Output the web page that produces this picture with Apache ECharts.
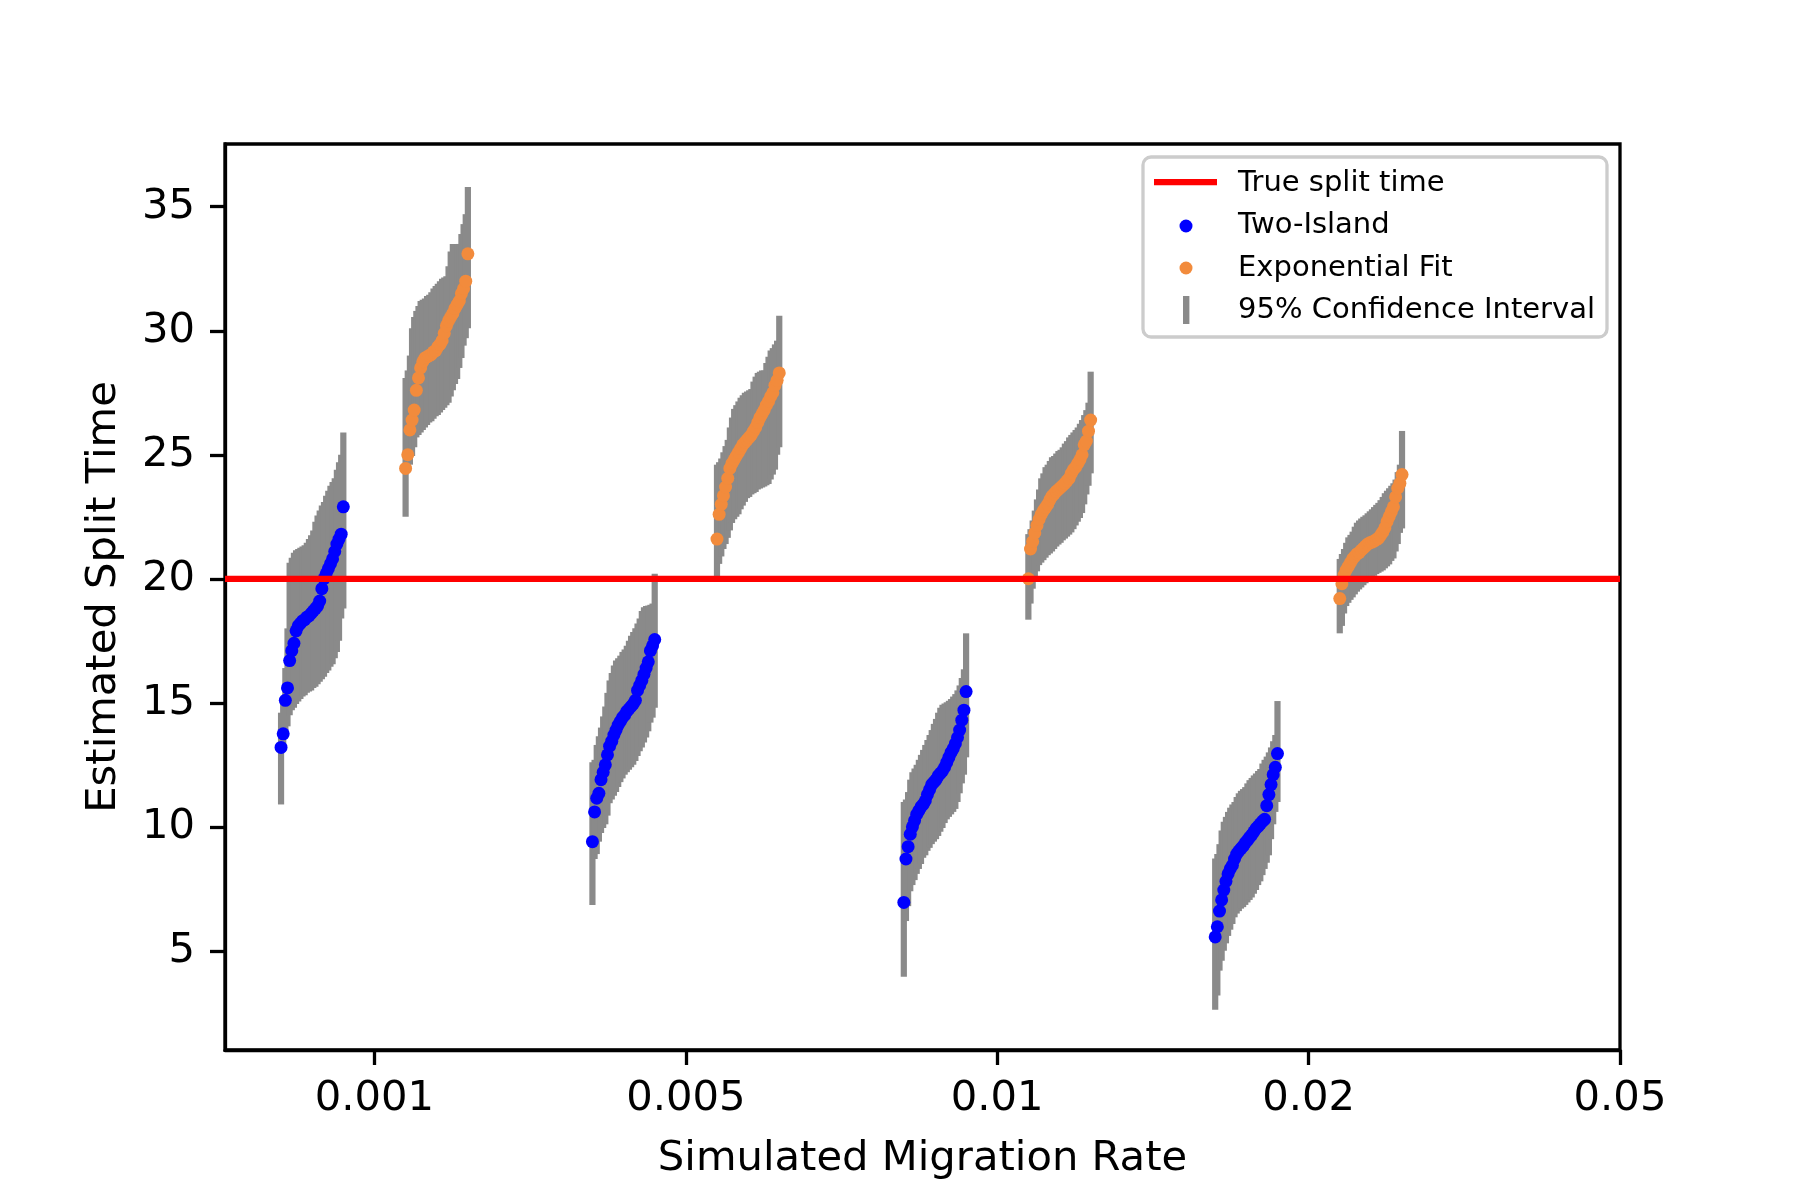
<!DOCTYPE html>
<html lang="en" style="height: 100%">

<head>
  <meta charset="utf-8">
</head>

<body style="height: 100%; margin: 0; background: #fff">
  <div id="container" style="width: 1800px; height: 1200px"></div>
  <script type="text/javascript" src="https://fastly.jsdelivr.net/npm/echarts@6.0.0/dist/echarts.min.js"></script>

  <script type="text/javascript">
    // x axis: one slot per simulated migration rate
    const rateLabels = ['0.001', '0.005', '0.01', '0.02', '0.05'];
    const rateSlots = [0, 1, 2, 3, 4];
    const yTicks = [5, 10, 15, 20, 25, 30, 35];
    const trueSplitTime = 20;

    // Two-Island estimates, sorted, one row per rate (0.001, 0.005, 0.01, 0.02)
    const twoIslandEst = [
      [13.2, 13.75, 15.1, 15.6, 16.7, 17.1, 17.4, 17.9, 18.1, 18.2, 18.3, 18.35, 18.45, 18.5, 18.6, 18.7, 18.8, 18.9, 19.1, 19.6, 20.0, 20.2, 20.4, 20.6, 20.8, 21.1, 21.4, 21.6, 21.8, 22.9],
      [9.4, 10.6, 11.15, 11.35, 11.9, 12.2, 12.5, 12.9, 13.25, 13.45, 13.7, 13.9, 14.1, 14.25, 14.4, 14.5, 14.65, 14.75, 14.85, 14.95, 15.1, 15.5, 15.7, 15.9, 16.15, 16.4, 16.65, 17.1, 17.3, 17.55],
      [6.95, 8.7, 9.2, 9.7, 10.0, 10.25, 10.5, 10.65, 10.8, 10.9, 11.05, 11.3, 11.5, 11.7, 11.8, 11.9, 12.05, 12.15, 12.25, 12.4, 12.6, 12.8, 13.0, 13.15, 13.35, 13.6, 13.9, 14.3, 14.7, 15.45],
      [5.56, 5.97, 6.6, 7.05, 7.45, 7.8, 8.1, 8.3, 8.45, 8.7, 8.9, 9.02, 9.12, 9.22, 9.35, 9.45, 9.57, 9.67, 9.8, 9.93, 10.02, 10.12, 10.22, 10.3, 10.85, 11.3, 11.7, 12.1, 12.4, 12.95]
    ];
    const twoIslandLo = [
      [10.9, 13.2, 13.6, 14.05, 14.5, 14.7, 14.8, 14.95, 15.05, 15.15, 15.25, 15.3, 15.4, 15.45, 15.5, 15.6, 15.65, 15.75, 15.85, 15.95, 16.05, 16.2, 16.3, 16.45, 16.55, 16.8, 17.05, 17.5, 18.4, 18.8],
      [6.85, 8.7, 8.9, 9.4, 9.75, 9.95, 10.1, 10.45, 10.95, 11.1, 11.25, 11.4, 11.6, 11.8, 11.95, 12.1, 12.2, 12.3, 12.4, 12.5, 12.65, 12.85, 13.05, 13.2, 13.4, 13.6, 13.85, 14.2, 14.4, 14.8],
      [3.95, 6.2, 6.8, 7.4, 7.65, 7.85, 8.1, 8.3, 8.5, 8.75, 8.85, 9.03, 9.15, 9.3, 9.4, 9.5, 9.63, 9.8, 9.95, 10.15, 10.3, 10.4, 10.5, 10.6, 10.72, 11.0, 11.35, 11.75, 12.1, 12.8],
      [2.62, 3.2, 4.2, 4.6, 5.0, 5.3, 5.6, 5.85, 6.08, 6.35, 6.5, 6.6, 6.7, 6.76, 6.85, 6.95, 7.05, 7.15, 7.3, 7.45, 7.65, 7.8, 8.05, 8.3, 8.55, 8.85, 9.5, 10.1, 10.6, 11.0]
    ];
    const twoIslandHi = [
      [14.6, 15.2, 16.4, 18.0, 20.65, 20.85, 21.05, 21.15, 21.2, 21.25, 21.3, 21.35, 21.45, 21.6, 21.75, 21.95, 22.3, 22.55, 22.75, 22.95, 23.1, 23.35, 23.55, 23.75, 23.9, 24.05, 24.4, 24.7, 25.0, 25.9],
      [12.6, 12.7, 13.3, 13.65, 14.0, 14.45, 14.85, 15.4, 15.9, 16.2, 16.5, 16.7, 16.8, 16.9, 17.05, 17.15, 17.3, 17.5, 17.7, 17.85, 18.0, 18.2, 18.4, 18.7, 18.85, 18.9, 18.92, 18.95, 19.0, 20.2],
      [11.0, 11.1, 11.4, 11.9, 12.2, 12.35, 12.5, 12.7, 12.9, 13.1, 13.3, 13.5, 13.7, 13.9, 14.15, 14.35, 14.6, 14.8, 14.92, 14.97, 15.02, 15.08, 15.15, 15.25, 15.35, 15.5, 15.7, 16.0, 16.35, 17.8],
      [8.72, 8.9, 9.3, 9.85, 10.2, 10.4, 10.6, 10.77, 10.9, 11.0, 11.2, 11.35, 11.45, 11.52, 11.6, 11.75, 11.88, 11.97, 12.07, 12.15, 12.25, 12.33, 12.55, 12.7, 12.83, 13.0, 13.2, 13.45, 13.7, 15.07]
    ];

    // Exponential fit estimates, sorted, one row per rate
    const expFitEst = [
      [24.45, 25.0, 26.0, 26.4, 26.8, 27.6, 28.1, 28.5, 28.75, 28.9, 28.95, 29.0, 29.05, 29.15, 29.2, 29.35, 29.45, 29.6, 29.9, 30.2, 30.4, 30.55, 30.7, 30.9, 31.05, 31.2, 31.5, 31.7, 32.0, 33.1],
      [21.6, 22.6, 23.0, 23.35, 23.7, 24.05, 24.45, 24.65, 24.8, 24.95, 25.1, 25.25, 25.4, 25.5, 25.6, 25.7, 25.8, 25.95, 26.1, 26.3, 26.5, 26.65, 26.8, 27.0, 27.15, 27.35, 27.5, 27.8, 28.0, 28.3],
      [20.0, 21.2, 21.5, 21.85, 22.15, 22.4, 22.6, 22.75, 22.87, 23.0, 23.18, 23.33, 23.42, 23.52, 23.6, 23.68, 23.76, 23.85, 23.95, 24.05, 24.25, 24.4, 24.5, 24.65, 24.8, 25.0, 25.4, 25.55, 25.95, 26.4],
      [19.2, 19.8, 20.15, 20.35, 20.5, 20.65, 20.8, 20.9, 21.0, 21.05, 21.15, 21.23, 21.32, 21.4, 21.45, 21.48, 21.52, 21.58, 21.63, 21.75, 21.88, 22.05, 22.3, 22.5, 22.7, 22.9, 23.3, 23.65, 23.85, 24.2]
    ];
    const expFitLo = [
      [22.5, 24.3, 24.6, 24.95, 25.3, 25.7, 25.8, 25.9, 26.0, 26.1, 26.2, 26.3, 26.35, 26.45, 26.55, 26.6, 26.7, 26.8, 26.9, 27.0, 27.1, 27.35, 27.6, 27.85, 28.05, 28.5, 28.9, 29.4, 29.7, 30.1],
      [20.1, 20.6, 20.9, 21.2, 21.4, 21.65, 21.95, 22.25, 22.4, 22.5, 22.6, 22.8, 22.95, 23.1, 23.25, 23.3, 23.4, 23.45, 23.5, 23.6, 23.64, 23.68, 23.72, 23.77, 23.82, 24.0, 24.2, 24.4, 25.0, 25.3],
      [18.35, 19.0, 19.6, 19.95, 20.3, 20.55, 20.65, 20.75, 20.85, 20.95, 21.02, 21.1, 21.2, 21.3, 21.38, 21.45, 21.55, 21.62, 21.7, 21.78, 21.87, 22.0, 22.15, 22.3, 22.45, 22.65, 23.0, 23.4, 23.75, 24.25],
      [17.8, 18.1, 18.6, 18.9, 19.03, 19.15, 19.25, 19.37, 19.48, 19.57, 19.65, 19.74, 19.82, 19.9, 19.99, 20.05, 20.12, 20.19, 20.24, 20.29, 20.34, 20.42, 20.5, 20.58, 20.72, 20.82, 21.1, 21.4, 21.85, 22.03]
    ];
    const expFitHi = [
      [28.1, 28.4, 29.0, 30.1, 30.55, 30.8, 31.0, 31.2, 31.25, 31.3, 31.4, 31.45, 31.55, 31.7, 31.8, 31.9, 32.0, 32.1, 32.15, 32.2, 32.6, 33.2, 33.5, 33.5, 33.5, 33.5, 33.9, 34.3, 34.7, 35.8],
      [24.6, 24.7, 24.85, 25.1, 25.35, 25.6, 26.1, 26.5, 26.85, 27.0, 27.15, 27.3, 27.4, 27.5, 27.55, 27.6, 27.65, 27.95, 28.15, 28.3, 28.35, 28.4, 28.4, 28.7, 28.95, 29.2, 29.3, 29.45, 29.6, 30.6],
      [21.8, 22.0, 22.35, 22.75, 23.2, 23.6, 24.05, 24.25, 24.5, 24.6, 24.75, 24.9, 24.95, 25.05, 25.15, 25.2, 25.3, 25.45, 25.55, 25.7, 25.8, 25.9, 26.0, 26.1, 26.25, 26.4, 26.6, 26.8, 27.1, 28.35],
      [20.8, 21.0, 21.2, 21.45, 21.67, 21.77, 21.9, 22.1, 22.26, 22.35, 22.43, 22.5, 22.56, 22.64, 22.72, 22.8, 22.89, 22.98, 23.06, 23.17, 23.3, 23.45, 23.55, 23.65, 23.75, 23.85, 24.0, 24.3, 24.6, 25.96]
    ];

    const FONT = '"DejaVu Sans", sans-serif';
    const X_MIN = -0.48, X_MAX = 4;

    // each group is spread over 0.2 of a slot: Two-Island left of the tick, Exponential right
    function spread(est, lo, hi, offset) {
      const pts = [], bars = [];
      est.forEach(function (row, k) {
        const n = row.length;
        row.forEach(function (v, i) {
          const x = rateSlots[k] + offset + 0.2 * i / (n - 1);
          pts.push([x, v]);
          bars.push([x, lo[k][i], hi[k][i]]);
        });
      });
      return { pts: pts, bars: bars };
    }
    const blue = spread(twoIslandEst, twoIslandLo, twoIslandHi, -0.3);
    const orange = spread(expFitEst, expFitLo, expFitHi, 0.1);

    function renderCI(params, api) {
      const top = api.coord([api.value(0), api.value(2)]);
      const bottom = api.coord([api.value(0), api.value(1)]);
      return {
        type: 'rect',
        shape: { x: top[0] - 3.1, y: top[1], width: 6.2, height: bottom[1] - top[1] },
        style: { fill: '#8a8a8a' }
      };
    }

    const dom = document.getElementById('container');
    const myChart = echarts.init(dom, null, { renderer: 'canvas' });

    const axisLine = { color: '#000', width: 3.3 };

    const option = {
      animation: false,
      backgroundColor: '#fff',
      textStyle: { fontFamily: FONT },
      grid: {
        left: 225, right: 180, top: 144, bottom: 150,
        show: true, borderColor: '#000', borderWidth: 3.3
      },
      xAxis: {
        type: 'value',
        min: X_MIN,
        max: X_MAX,
        axisLine: { show: true, onZero: false, lineStyle: axisLine },
        axisTick: { show: true, customValues: rateSlots, length: 15, lineStyle: axisLine },
        axisLabel: {
          customValues: rateSlots,
          formatter: function (v) { return rateLabels[Math.round(v)]; },
          fontSize: 41.7, color: '#000', fontFamily: FONT, margin: 28
        },
        splitLine: { show: false },
        name: 'Simulated Migration Rate',
        nameLocation: 'middle',
        nameGap: 88,
        nameTextStyle: { fontSize: 41.7, color: '#000', fontFamily: FONT }
      },
      yAxis: {
        type: 'value',
        min: 1.0,
        max: 37.53,
        axisLine: { show: true, onZero: false, lineStyle: axisLine },
        axisTick: { show: true, customValues: yTicks, length: 15, lineStyle: axisLine },
        axisLabel: {
          customValues: yTicks,
          fontSize: 41.7, color: '#000', fontFamily: FONT, margin: 30
        },
        splitLine: { show: false },
        name: 'Estimated Split Time',
        nameLocation: 'middle',
        nameRotate: 90,
        nameGap: 100,
        nameTextStyle: { fontSize: 41.7, color: '#000', fontFamily: FONT }
      },
      graphic: [
        {
          type: 'rect',
          shape: { x: 1143, y: 157, width: 464, height: 180, r: 8 },
          style: { fill: 'rgba(255,255,255,0.8)', stroke: '#cccccc', lineWidth: 3.3 },
          z: 100
        },
        {
          type: 'line',
          shape: { x1: 1154, y1: 182, x2: 1217, y2: 182 },
          style: { stroke: '#ff0000', lineWidth: 6.25 },
          z: 101
        },
        {
          type: 'circle',
          shape: { cx: 1186, cy: 226, r: 6.5 },
          style: { fill: '#0000ff' },
          z: 101
        },
        {
          type: 'circle',
          shape: { cx: 1186, cy: 268, r: 6.5 },
          style: { fill: '#f28b3c' },
          z: 101
        },
        {
          type: 'rect',
          shape: { x: 1183, y: 296, width: 6.4, height: 28 },
          style: { fill: '#8a8a8a' },
          z: 101
        },
        { type: 'text', x: 1238, y: 183, z: 101, style: { text: 'True split time', font: '29px ' + FONT, fill: '#000', verticalAlign: 'middle' } },
        { type: 'text', x: 1238, y: 225, z: 101, style: { text: 'Two-Island', font: '29px ' + FONT, fill: '#000', verticalAlign: 'middle' } },
        { type: 'text', x: 1238, y: 268, z: 101, style: { text: 'Exponential Fit', font: '29px ' + FONT, fill: '#000', verticalAlign: 'middle' } },
        { type: 'text', x: 1238, y: 310, z: 101, style: { text: '95% Confidence Interval', font: '29px ' + FONT, fill: '#000', verticalAlign: 'middle' } }
      ],
      series: [
        {
          name: '95% Confidence Interval',
          type: 'custom',
          renderItem: renderCI,
          encode: { x: 0, y: [1, 2] },
          data: blue.bars.concat(orange.bars),
          silent: true
        },
        {
          name: 'True split time',
          type: 'line',
          data: [[X_MIN, trueSplitTime], [X_MAX, trueSplitTime]],
          symbol: 'none',
          lineStyle: { color: '#ff0000', width: 6.25 },
          silent: true
        },
        {
          name: 'Two-Island',
          type: 'scatter',
          data: blue.pts,
          symbolSize: 13,
          itemStyle: { color: '#0000ff', opacity: 1 },
          silent: true
        },
        {
          name: 'Exponential Fit',
          type: 'scatter',
          data: orange.pts,
          symbolSize: 13,
          itemStyle: { color: '#f28b3c', opacity: 1 },
          silent: true
        }
      ]
    };

    myChart.setOption(option);
    window.addEventListener('resize', myChart.resize);
  </script>
</body>

</html>
